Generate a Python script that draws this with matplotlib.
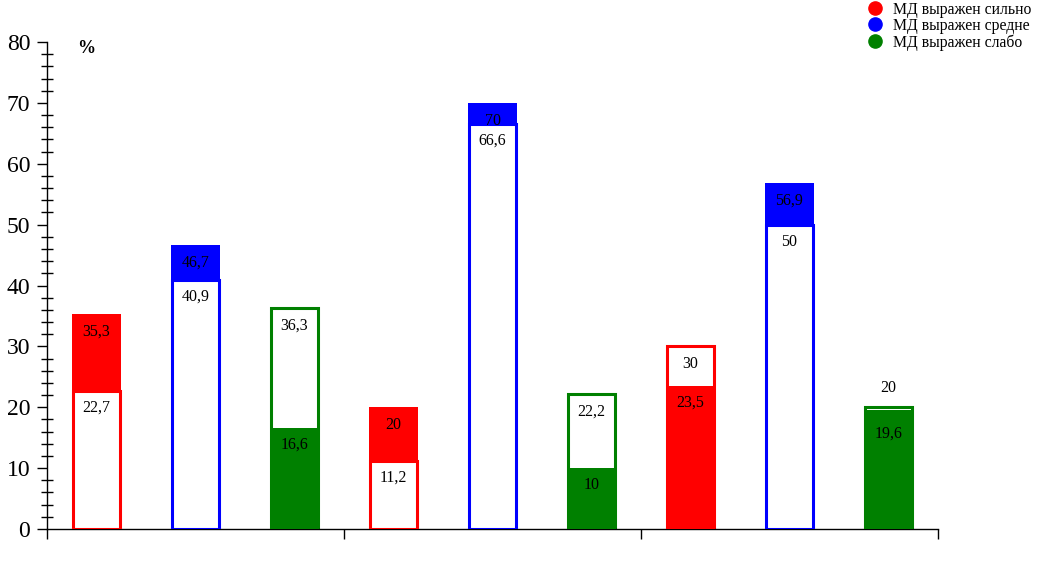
import matplotlib.pyplot as plt
from matplotlib.lines import Line2D
from matplotlib.ticker import MultipleLocator, FixedLocator, NullFormatter

plt.rcParams['font.family'] = ['Liberation Serif', 'DejaVu Serif']

# значения, читаемые с картинки
colors = ['red', 'blue', 'green'] * 3
filled = [35.3, 46.7, 16.6, 20, 70, 10, 23.5, 56.9, 19.6]
outlined = [22.7, 40.9, 36.3, 11.2, 66.6, 22.2, 30, 50, 20]
legend_labels = ['МД выражен сильно', 'МД выражен средне', 'МД выражен слабо']
legend_colors = ['red', 'blue', 'green']


def fmt(v):
    s = ('%g' % v)
    return s.replace('.', ',')


def main():
    fig = plt.figure(figsize=(10.38, 5.65), dpi=100)
    ax = fig.add_axes([47/1038, 36/565, 891/1038, 487/565])

    w = 0.5
    for i in range(len(filled)):
        x = i + 0.5
        c = colors[i]
        f = filled[i]
        o = outlined[i]
        # большая колонка снизу, меньшая поверх
        if f >= o:
            ax.bar(x, f, w, color=c, edgecolor=c, linewidth=0, zorder=2)
            ax.bar(x, o, w - 0.03, color='white', edgecolor=c, linewidth=2.2, zorder=3)
        else:
            ax.bar(x, o, w - 0.03, color='white', edgecolor=c, linewidth=2.2, zorder=2)
            ax.bar(x, f, w, color=c, edgecolor=c, linewidth=0, zorder=3)

        hi = max(f, o)
        lo = min(f, o)
        if hi - lo < 3:
            y_hi = hi + 3.2
            y_lo = lo - 4
        else:
            y_hi = hi - 2.9
            y_lo = lo - 2.8
        ax.text(x, y_hi, fmt(hi), ha='center', va='center', fontsize=11.5, zorder=5)
        ax.text(x, y_lo, fmt(lo), ha='center', va='center', fontsize=11.5, zorder=5)

    ax.set_xlim(0, 9)
    ax.set_ylim(0, 80)
    ax.spines['top'].set_visible(False)
    ax.spines['right'].set_visible(False)
    ax.spines['left'].set_linewidth(1)
    ax.spines['bottom'].set_linewidth(1)

    ax.yaxis.set_major_locator(MultipleLocator(10))
    ax.yaxis.set_minor_locator(MultipleLocator(2))
    ax.tick_params(axis='y', which='major', direction='out', length=7, width=1,
                   labelsize=17, pad=5)
    ax.tick_params(axis='y', which='minor', direction='inout', length=9, width=1)

    ax.xaxis.set_major_locator(FixedLocator([0, 3, 6, 9]))
    ax.xaxis.set_major_formatter(NullFormatter())
    ax.tick_params(axis='x', which='major', direction='out', length=7, width=1)

    ax.text(0.3, 79, '%', fontsize=13, fontweight='bold', ha='left', va='center')

    handles = [Line2D([0], [0], marker='o', linestyle='none', color=c,
                      markersize=9.5) for c in legend_colors]
    fig.legend(handles, legend_labels, loc='upper left',
               bbox_to_anchor=(866/1038, 1.0), frameon=False, fontsize=11.3,
               handlelength=1.0, handletextpad=0.6, labelspacing=0.02,
               borderaxespad=0.0, borderpad=0.1)

    fig.savefig('out.png', dpi=100)


if __name__ == "__main__":
    main()
